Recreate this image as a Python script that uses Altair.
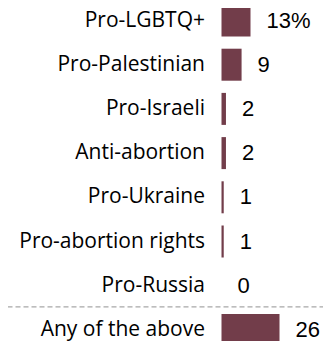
import altair as alt
import pandas as pd

categories = ["Pro-LGBTQ+", "Pro-Palestinian", "Pro-Israeli", "Anti-abortion",
              "Pro-Ukraine", "Pro-abortion rights", "Pro-Russia", "Any of the above"]
values = [13, 9, 2, 2, 1, 1, 0, 26]
value_labels = ["13%", "9", "2", "2", "1", "1", "0", "26"]
separator_before = ["Any of the above"]

df = pd.DataFrame({"cat": categories, "val": values, "lab": value_labels})
sep = pd.DataFrame({"cat": separator_before})

LABEL_FONT = "Open Sans"
NUM_FONT = "Liberation Sans"
BAR = "#723d4a"

STEP = 44.2
BAND = 32
PLOT_H = 7 * STEP + BAND

yscale = alt.Scale(domain=categories, paddingInner=1 - BAND / STEP, paddingOuter=0)
yenc = alt.Y("cat:N", scale=yscale, sort=categories,
             axis=alt.Axis(title=None, domain=False, ticks=False, grid=False,
                           labelFont=LABEL_FONT, labelFontSize=21, labelColor="#000000",
                           labelPadding=17, labelLimit=400))
xscale = alt.Scale(domain=[0, 45.5], nice=False, zero=True)

bars = alt.Chart(df).mark_bar(color=BAR).encode(
    x=alt.X("val:Q", scale=xscale, axis=None),
    y=yenc,
)
texts = alt.Chart(df).mark_text(align="left", baseline="middle", dx=16,
                                font=NUM_FONT, fontSize=22, color="#000000").encode(
    x=alt.X("val:Q", scale=xscale, axis=None),
    y=alt.Y("cat:N", scale=yscale, sort=categories),
    text="lab:N",
)
rule = alt.Chart(sep).mark_rule(color="#a8a8a8", strokeWidth=1.2, strokeDash=[5, 3],
                                yOffset=-7).encode(
    y=alt.Y("cat:N", scale=yscale, sort=categories, bandPosition=0),
    x=alt.value(-214),
    x2=alt.value(110),
)

TOP = -3.5
SVG_H = 333
chart = alt.layer(bars, texts, rule).properties(
    width=101.5, height=PLOT_H,
    autosize=alt.AutoSizeParams(type="none"),
    padding={"left": 213.5, "top": TOP, "right": 0, "bottom": SVG_H - PLOT_H - TOP},
).configure_view(stroke=None)

chart.save("out.html", embed_options={"renderer": "svg", "actions": False})
